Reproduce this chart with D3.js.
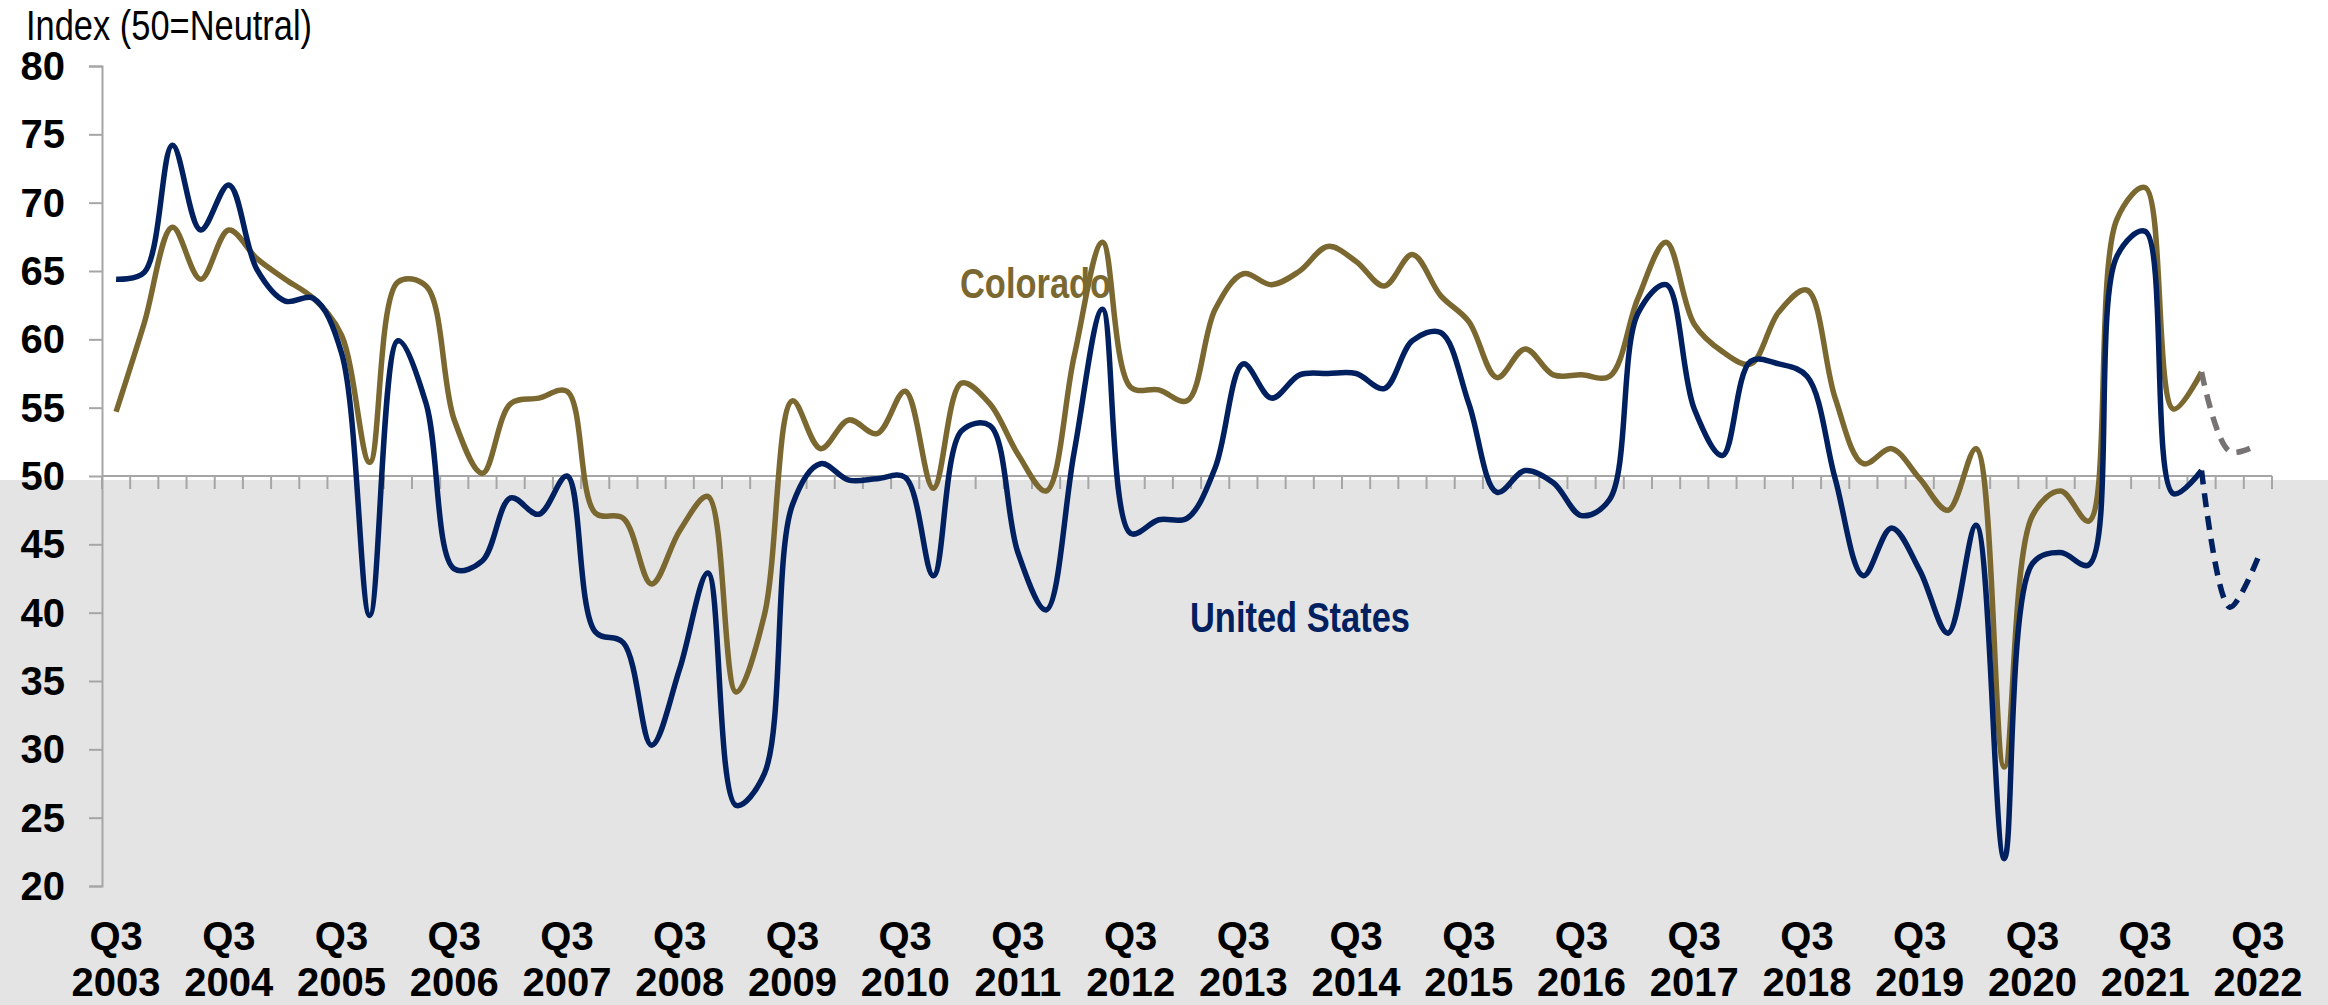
<!DOCTYPE html>
<html>
<head>
<meta charset="utf-8">
<script src="https://cdn.jsdelivr.net/npm/d3@7/dist/d3.min.js"></script>
<style>
  html, body { margin: 0; padding: 0; background: #ffffff; }
  svg { display: block; }
</style>
</head>
<body>
<script>
// Quarterly categories, Q3 2003 through Q3 2022
const quarters = [];
for (let yr = 2003, q = 3; yr < 2022 || (yr === 2022 && q <= 3); ) {
  quarters.push("Q" + q + " " + yr);
  q++; if (q > 4) { q = 1; yr++; }
}

// Colorado index (actual), Q3 2003 .. Q4 2021
const coloradoValues = [
  54.7, 61.2, 68.2, 64.4, 68.0, 65.9, 64.4, 63.0, 60.3, 51.0,
  64.2, 63.9, 54.1, 50.2, 55.3, 55.7, 56.2, 47.3, 46.9, 42.1,
  46.0, 48.5, 34.2, 39.8, 55.5, 52.0, 54.1, 53.1, 56.2, 49.1,
  56.8, 55.3, 51.6, 48.9, 58.8, 67.1, 56.5, 56.3, 55.5, 62.2,
  64.8, 64.0, 65.0, 66.8, 65.7, 63.9, 66.2, 63.2, 61.3, 57.2,
  59.3, 57.4, 57.4, 57.3, 63.0, 67.1, 61.1, 59.1, 58.2, 62.0,
  63.6, 55.7, 50.9, 52.0, 49.8, 47.5, 52.0, 28.7, 47.1, 48.9,
  46.7, 68.8, 71.1, 54.9, 57.6
];
// United States index (actual)
const usValues = [
  64.4, 64.9, 74.2, 68.0, 71.3, 65.1, 62.8, 63.0, 59.0, 39.8,
  59.9, 55.3, 43.2, 43.8, 48.4, 47.2, 50.0, 38.6, 37.8, 30.3,
  35.9, 42.9, 25.9, 28.2, 47.9, 50.9, 49.7, 49.8, 49.9, 42.7,
  53.3, 53.7, 44.4, 40.2, 51.8, 62.2, 45.8, 46.8, 46.9, 50.6,
  58.2, 55.7, 57.4, 57.5, 57.5, 56.4, 59.9, 60.5, 55.3, 48.8,
  50.4, 49.5, 47.1, 48.3, 61.9, 64.0, 54.9, 51.5, 58.4, 58.2,
  57.3, 49.8, 42.7, 46.2, 43.1, 38.5, 46.4, 22.0, 43.6, 44.4,
  43.5, 66.1, 67.9, 48.7, 50.4
];
// Expected values (Q4 2021 joins the actual series)
const coloradoExpected = [57.6, 51.8, 52.3];
const usExpected = [50.4, 40.4, 44.0];
const expectedStart = 74;

const yTickValues = [20, 25, 30, 35, 40, 45, 50, 55, 60, 65, 70, 75, 80];
const xTickLabels = quarters.filter(d => d.startsWith("Q3"));

const W = 2328, H = 1005;
const colors = { colorado: "#7b6830", us: "#002060", expected: "#777373", axis: "#a6a6a6", shade: "#e4e4e4" };

const svg = d3.select("body").append("svg").attr("width", W).attr("height", H);

const x = d3.scaleBand().domain(quarters).range([102, 2272]).padding(0);
const y = d3.scaleLinear().domain([20, 80]).range([886, 66]);
const cx = d => x(d) + x.bandwidth() / 2;

// Shaded region below the neutral level
svg.append("rect").attr("x", 0).attr("y", y(50) + 4).attr("width", W).attr("height", H - y(50) - 4)
  .attr("fill", colors.shade);

// Y axis
const yAxis = svg.append("g").attr("transform", `translate(${x.range()[0]},0)`)
  .call(d3.axisLeft(y).tickValues(yTickValues).tickSize(13).tickPadding(24).tickFormat(d3.format("d")));
yAxis.select(".domain").attr("stroke", colors.axis).attr("stroke-width", 2);
yAxis.selectAll(".tick line").attr("stroke", colors.axis).attr("stroke-width", 2);
yAxis.selectAll(".tick text")
  .attr("font-family", "'Liberation Sans', Arial, sans-serif")
  .attr("font-weight", "bold").attr("font-size", 40).attr("fill", "#000").attr("dy", "0.34em");

// Category axis along the neutral line (ticks between quarters)
const xb = svg.append("g");
xb.append("line").attr("x1", x.range()[0]).attr("x2", x.range()[1])
  .attr("y1", y(50)).attr("y2", y(50)).attr("stroke", colors.axis).attr("stroke-width", 2);
const boundaries = quarters.map(d => x(d)).concat([x.range()[1]]);
xb.selectAll("line.tk").data(boundaries).join("line").attr("class", "tk")
  .attr("x1", d => d).attr("x2", d => d).attr("y1", y(50)).attr("y2", y(50) + 13)
  .attr("stroke", colors.axis).attr("stroke-width", 2);

// Category labels
const xl = svg.append("g").attr("font-family", "'Liberation Sans', Arial, sans-serif")
  .attr("font-weight", "bold").attr("font-size", 40).attr("fill", "#000").attr("text-anchor", "middle");
xl.selectAll("text").data(xTickLabels).join("text")
  .attr("transform", d => `translate(${cx(d)},0)`)
  .each(function(d) {
    const [q, yr] = d.split(" ");
    d3.select(this).append("tspan").attr("x", 0).attr("y", 950).text(q);
    d3.select(this).append("tspan").attr("x", 0).attr("y", 996).text(yr);
  });

// Lines
const line = d3.line().x(d => cx(d.q)).y(d => y(d.v)).curve(d3.curveCatmullRom.alpha(0.5));
const toPts = (vals, start) => vals.map((v, i) => ({ q: quarters[start + i], v }));

const sw = 5.5;
svg.append("path").datum(toPts(coloradoValues, 0)).attr("d", line)
  .attr("fill", "none").attr("stroke", colors.colorado).attr("stroke-width", sw).attr("stroke-linejoin", "round");
svg.append("path").datum(toPts(usValues, 0)).attr("d", line)
  .attr("fill", "none").attr("stroke", colors.us).attr("stroke-width", sw).attr("stroke-linejoin", "round");
svg.append("path").datum(toPts(coloradoExpected, expectedStart)).attr("d", line)
  .attr("fill", "none").attr("stroke", colors.expected).attr("stroke-width", sw).attr("stroke-dasharray", "14,9");
svg.append("path").datum(toPts(usExpected, expectedStart)).attr("d", line)
  .attr("fill", "none").attr("stroke", colors.us).attr("stroke-width", sw).attr("stroke-dasharray", "14,9");

// Narrow-style text: regular face condensed horizontally
function narrowText(txt, px, py, opts) {
  svg.append("text").attr("transform", `translate(${px},${py}) scale(0.82,1)`)
    .attr("font-family", "'Liberation Sans', Arial, sans-serif")
    .attr("font-size", opts.size).attr("font-weight", opts.weight || "normal")
    .attr("fill", opts.fill || "#000").text(txt);
}
narrowText("Index (50=Neutral)", 26, 40, { size: 42 });
narrowText("Colorado", 960, 298, { size: 42, weight: "bold", fill: colors.colorado });
narrowText("United States", 1190, 632, { size: 42, weight: "bold", fill: colors.us });
</script>
</body>
</html>
